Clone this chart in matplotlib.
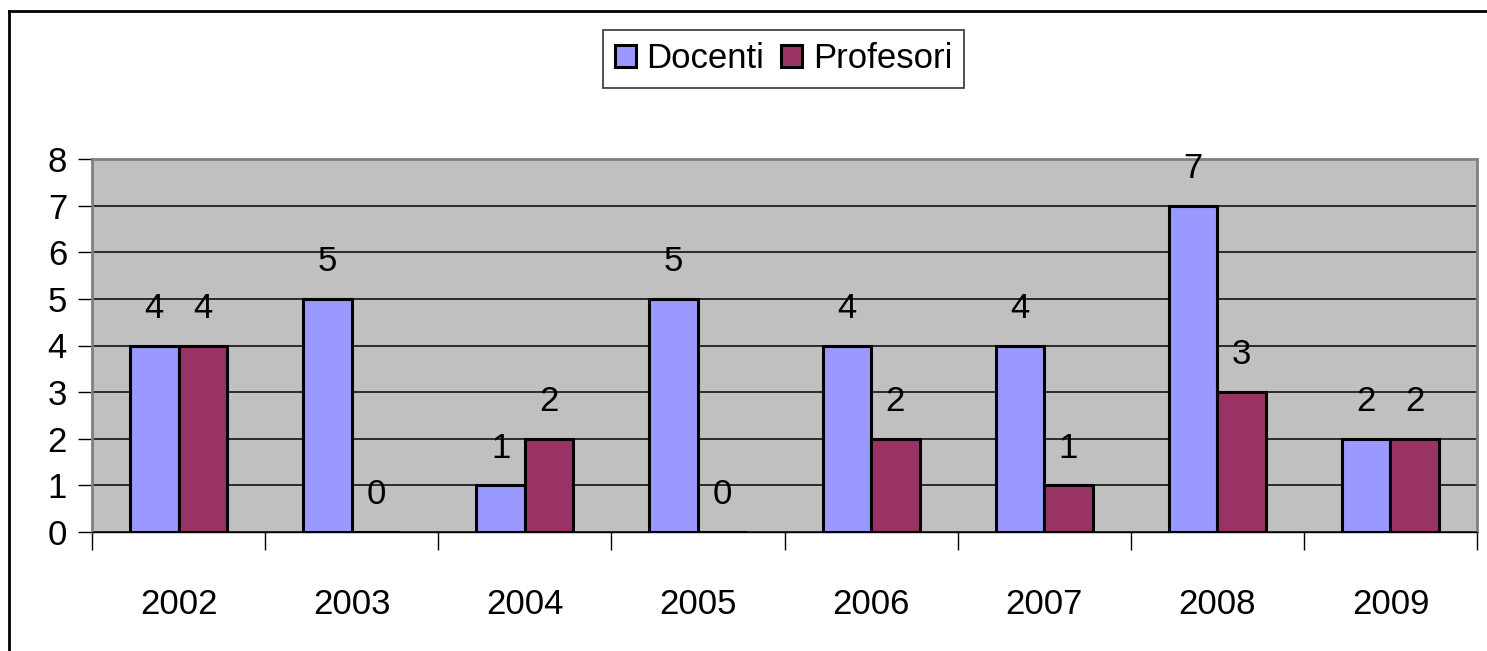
import matplotlib
matplotlib.use('Agg')
import numpy as np
import matplotlib.pyplot as plt
from matplotlib.lines import Line2D

plt.rcParams['font.family'] = ['Liberation Sans', 'DejaVu Sans']

#datos
anios = ['2002', '2003', '2004', '2005', '2006', '2007', '2008', '2009']
docenti = [4, 5, 1, 5, 4, 4, 7, 2]
profesori = [4, 0, 2, 0, 2, 1, 3, 2]

FS = 25
W, H = 1487, 651
fig = plt.figure(figsize=(W/100, H/100), dpi=100)
ax = fig.add_axes([92/W, 1-532/H, (1477-92)/W, (532-159)/H])
ax.set_facecolor('#C0C0C0')

x = np.arange(len(anios))
w = 0.28
b1 = ax.bar(x - w/2, docenti, w, color='#9999FF', edgecolor='black', linewidth=2.2, label='Docenti', zorder=3)
b2 = ax.bar(x + w/2, profesori, w, color='#993366', edgecolor='black', linewidth=2.2, label='Profesori', zorder=3)

#etichette sopra le barre
for xi, v in zip(x - w/2, docenti):
    ax.text(xi, v + 0.8, str(v), ha='center', va='center', fontsize=FS)
for xi, v in zip(x + w/2, profesori):
    ax.text(xi, v + 0.8, str(v), ha='center', va='center', fontsize=FS)

ax.set_xlim(-0.5, len(anios) - 0.5)
ax.set_ylim(0, 8)
ax.set_yticks(range(9))
ax.yaxis.grid(True, color='#202020', linewidth=1.3, zorder=1)
ax.set_axisbelow(True)

ax.set_xticks(np.arange(-0.5, len(anios)), minor=False)
ax.set_xticklabels([])
ax.set_xticks(x, minor=True)
ax.set_xticklabels(anios, minor=True)
ax.tick_params(axis='x', which='major', length=13, width=1, color='black', direction='out')
ax.tick_params(axis='x', which='minor', length=0, pad=40, labelsize=FS)
ax.tick_params(axis='y', length=10, width=1, direction='out', labelsize=FS, pad=8)

for s in ['top', 'right', 'left']:
    ax.spines[s].set_color('#808080')
    ax.spines[s].set_linewidth(2)
ax.spines['bottom'].set_color('black')
ax.spines['bottom'].set_linewidth(1)

leg = fig.legend(handles=[b1, b2], loc='center', bbox_to_anchor=(783.5/W, 1-59/H), ncol=2,
                 fontsize=FS, frameon=True, fancybox=False, edgecolor='black',
                 handlelength=0.6, handleheight=0.6, handletextpad=0.3, columnspacing=0.5,
                 borderpad=0.35, borderaxespad=0)
leg.get_frame().set_linewidth(1.2)

#bordo del grafico
fig.add_artist(Line2D([9/W, 1], [1-11/H, 1-11/H], color='black', linewidth=2, transform=fig.transFigure))
fig.add_artist(Line2D([9/W, 9/W], [0, 1-11/H], color='black', linewidth=2, transform=fig.transFigure))

fig.savefig('out.png', dpi=100)
